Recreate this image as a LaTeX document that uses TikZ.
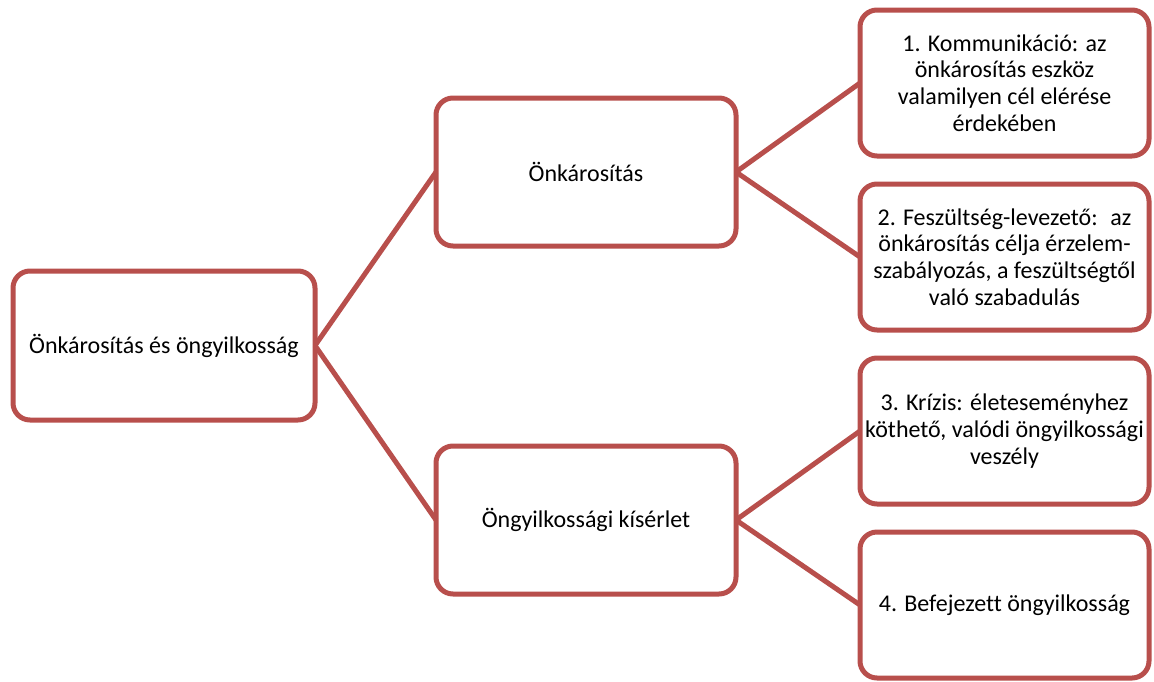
\documentclass[tikz,border=0pt]{standalone}
\usepackage{fontspec}
\setmainfont{Carlito}[Ligatures={NoCommon}]
\definecolor{boxred}{RGB}{184,79,76}
\begin{document}
\begin{tikzpicture}[x=1pt,y=-1pt,
  box/.style={draw=boxred, line width=5pt, rounded corners=17pt, fill=white,
    outer sep=0pt, inner sep=0pt, align=center, text=black,
    font=\fontsize{24}{26.7}\selectfont},
  midbox/.style={box, minimum width=300pt, minimum height=148pt},
  leafbox/.style={box, minimum width=289pt, minimum height=146pt},
  link/.style={draw=boxred, line width=5pt}]
\useasboundingbox (0,0) rectangle (1154,681);
\node[box, minimum width=302pt, minimum height=149pt] (root) at (164,345.5) {Önkárosítás és öngyilkosság};
\node[midbox] (onk) at (586,172) {Önkárosítás};
\node[midbox] (ongy) at (586,520) {Öngyilkossági kísérlet};
\node[leafbox] (l1) at (1004.5,83) {1. Kommunikáció: az\\önkárosítás eszköz\\valamilyen cél elérése\\érdekében};
\node[leafbox] (l2) at (1004.5,257) {2. Feszültség-levezető:~ az\\önkárosítás célja érzelem-\\szabályozás, a feszültségtől\\való szabadulás};
\node[leafbox] (l3) at (1004.5,431) {3. Krízis: életeseményhez\\köthető, valódi öngyilkossági\\veszély};
\node[leafbox] (l4) at (1004.5,605) {4. Befejezett öngyilkosság};
\draw[link] (root.east) -- (onk.west);
\draw[link] (root.east) -- (ongy.west);
\draw[link] (onk.east) -- (l1.west);
\draw[link] (onk.east) -- (l2.west);
\draw[link] (ongy.east) -- (l3.west);
\draw[link] (ongy.east) -- (l4.west);
\end{tikzpicture}
\end{document}
